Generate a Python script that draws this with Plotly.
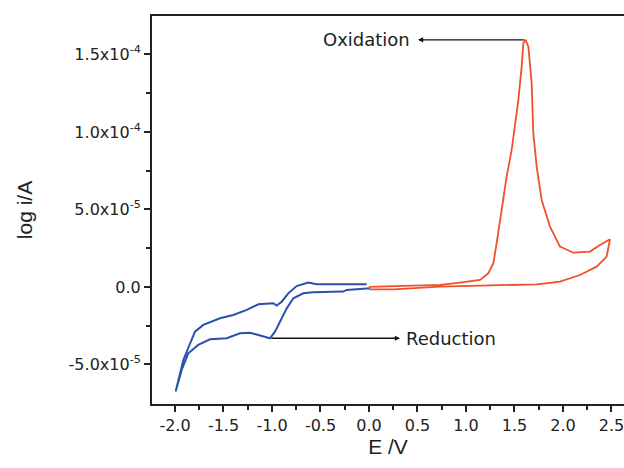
import plotly.graph_objects as go

# Blue (cathodic region) scan: E in V, current in A
blue_E = [-0.024, -0.539, -0.626, -0.746, -0.832, -0.900, -0.952, -0.986, -1.141, -1.261,
          -1.399, -1.536, -1.708, -1.794, -1.914, -1.993,
          -1.931, -1.863, -1.760, -1.639, -1.467, -1.330, -1.227, -1.141, -1.021, -0.969,
          -0.918, -0.848, -0.780, -0.677, -0.574, -0.265, -0.230, 0.010]
blue_I = [0.17, 0.17, 0.28, 0.06, -0.41, -0.95, -1.20, -1.05, -1.12, -1.48,
          -1.81, -2.02, -2.45, -2.88, -4.71, -6.75,
          -5.35, -4.28, -3.74, -3.38, -3.31, -2.99, -2.95, -3.10, -3.31, -2.88,
          -2.24, -1.38, -0.73, -0.41, -0.34, -0.30, -0.19, -0.08]

# Red (anodic region) scan
red_E = [0.0, 0.251, 0.732, 0.938, 1.144, 1.230, 1.282, 1.316, 1.351, 1.385, 1.419, 1.471,
         1.505, 1.540, 1.574, 1.591, 1.615, 1.643, 1.677, 1.694, 1.729, 1.780, 1.866,
         1.969, 2.107, 2.278, 2.381, 2.485,
         2.450, 2.347, 2.175, 1.969, 1.729, 1.075, 0.732, 0.251, 0.0]
red_I = [0.0, 0.05, 0.13, 0.28, 0.45, 0.88, 1.53, 2.82, 4.32, 5.61, 7.12, 8.84,
         10.34, 12.06, 14.21, 15.72, 15.94, 15.50, 13.14, 9.92, 7.76, 5.61, 3.89,
         2.60, 2.21, 2.28, 2.71, 3.08,
         1.96, 1.31, 0.77, 0.34, 0.17, 0.08, 0.02, -0.15, -0.15]

scale = 1e-5
blue_I = [v * scale for v in blue_I]
red_I = [v * scale for v in red_I]

y_ticks = [-5e-5, 0.0, 5e-5, 1e-4, 1.5e-4]
y_ticktext = ["-5.0x10<sup>-5</sup>", "0.0", "5.0x10<sup>-5</sup>",
              "1.0x10<sup>-4</sup>", "1.5x10<sup>-4</sup>"]
y_minor = [-2.5e-5, 2.5e-5, 7.5e-5, 1.25e-4]
x_ticks = [-2.0, -1.5, -1.0, -0.5, 0.0, 0.5, 1.0, 1.5, 2.0, 2.5]
x_ticktext = ["-2.0", "-1.5", "-1.0", "-0.5", "0.0", "0.5", "1.0", "1.5", "2.0", "2.5"]
x_minor = [-1.75, -1.25, -0.75, -0.25, 0.25, 0.75, 1.25, 1.75, 2.25]

ox_peak = (1.615, 15.94e-5)
red_point = (-1.021, -3.31e-5)

fig = go.Figure()
fig.add_trace(go.Scatter(x=blue_E, y=blue_I, mode="lines",
                         line=dict(color="#2a52ad", width=2), showlegend=False))
fig.add_trace(go.Scatter(x=red_E, y=red_I, mode="lines",
                         line=dict(color="#f0502a", width=1.8), showlegend=False))

# arrows
fig.add_annotation(x=0.505, y=ox_peak[1], ax=ox_peak[0], ay=ox_peak[1],
                   xref="x", yref="y", axref="x", ayref="y", text="",
                   showarrow=True, arrowhead=2, arrowsize=0.8, arrowwidth=1.3,
                   arrowcolor="#111")
fig.add_annotation(x=0.44, y=ox_peak[1], xref="x", yref="y", text="Oxidation",
                   showarrow=False, xanchor="right", yanchor="middle",
                   font=dict(family="DejaVu Sans", size=18, color="#222"))
fig.add_annotation(x=0.32, y=red_point[1], ax=red_point[0], ay=red_point[1],
                   xref="x", yref="y", axref="x", ayref="y", text="",
                   showarrow=True, arrowhead=2, arrowsize=0.8, arrowwidth=1.3,
                   arrowcolor="#111")
fig.add_annotation(x=0.36, y=red_point[1], xref="x", yref="y", text="Reduction",
                   showarrow=False, xanchor="left", yanchor="middle",
                   font=dict(family="DejaVu Sans", size=18, color="#222"))

tick_font = dict(family="DejaVu Sans", size=16, color="#222")
title_font = dict(family="Liberation Sans, Arial", size=21, color="#222")
fig.update_layout(
    width=624, height=468,
    margin=dict(l=152, r=0, t=16, b=64),
    paper_bgcolor="white", plot_bgcolor="white",
    font=tick_font,
    xaxis=dict(range=[-2.237, 2.629], tickmode="array", tickvals=x_ticks, ticktext=x_ticktext,
               tickfont=tick_font, ticklabeloverflow="allow",
               ticks="outside", ticklen=6, tickwidth=1.5, tickcolor="#222",
               showline=True, linecolor="#222", linewidth=2, mirror=True,
               showgrid=False, zeroline=False,
               minor=dict(tickmode="array", tickvals=x_minor, ticks="outside", ticklen=4,
                          tickwidth=1.5, tickcolor="#222", showgrid=False),
               title=dict(text="E /V", font=title_font, standoff=3)),
    yaxis=dict(range=[-7.55e-5, 17.48e-5], tickmode="array", tickvals=y_ticks, ticktext=y_ticktext,
               tickfont=tick_font,
               ticks="outside", ticklen=6, tickwidth=1.5, tickcolor="#222",
               showline=True, linecolor="#222", linewidth=2, mirror=False,
               showgrid=False, zeroline=False,
               minor=dict(tickmode="array", tickvals=y_minor, ticks="outside", ticklen=4,
                          tickwidth=1.5, tickcolor="#222", showgrid=False),
               title=dict(text="log i/A", font=title_font, standoff=30)),
)

fig.write_html("out.html", config={"displayModeBar": False},
               post_script="document.body.style.margin='0px';")
